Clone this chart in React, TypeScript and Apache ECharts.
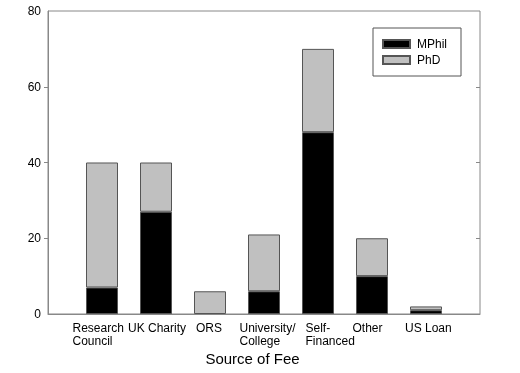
import React, { useEffect, useRef } from "react";
import * as echarts from "echarts";

const categories = ["Research\nCouncil", "UK Charity", "ORS", "University/\nCollege", "Self-\nFinanced", "Other", "US Loan"];
const mphil = [7, 27, 0, 6, 48, 10, 1];
const phd = [33, 13, 6, 15, 22, 10, 1];
const yTicks = [20, 40, 60];

// label block widths (left-aligned lines, block centred on the bar)
const labelBlockWidth = [59, 56, 28, 49, 25, 39, 42];

export default function App() {
  const ref = useRef<HTMLDivElement>(null);
  useEffect(() => {
    if (!ref.current) return;
    const chart = echarts.init(ref.current, null, { renderer: "svg" });
    const font = "'Liberation Sans', Arial, sans-serif";
    const rich: Record<string, any> = {};
    labelBlockWidth.forEach((w, i) => {
      rich["c" + i] = { width: w, align: "left", fontSize: 12, lineHeight: 13, color: "#000", fontFamily: font };
    });
    const axisCats = ["", ...categories, ""];
    chart.setOption({
      animation: false,
      textStyle: { fontFamily: font },
      grid: { left: 48, right: 40, top: 11, bottom: 59, show: true, borderColor: "#888", borderWidth: 1, backgroundColor: "transparent" },
      legend: {
        orient: "vertical",
        left: 373,
        top: 28,
        data: ["MPhil", "PhD"],
        icon: "rect",
        itemWidth: 27,
        itemHeight: 8,
        itemGap: 4,
        borderColor: "#555",
        borderWidth: 1,
        padding: [10, 14, 10, 9],
        textStyle: { fontSize: 12, color: "#000", lineHeight: 12, fontFamily: font, padding: [0, 0, 0, 2] },
      },
      xAxis: {
        type: "category",
        data: axisCats,
        boundaryGap: false,
        axisLine: { show: true, lineStyle: { color: "#888" } },
        axisTick: { show: false },
        splitLine: { show: false },
        axisLabel: {
          interval: 0,
          margin: 7,
          formatter: (v: string) => {
            const i = categories.indexOf(v);
            if (i < 0) return "";
            return v.split("\n").map((l) => `{c${i}|${l}}`).join("\n");
          },
          rich,
        },
        name: "Source of Fee",
        nameLocation: "middle",
        nameGap: 33,
        nameTextStyle: { fontSize: 15, color: "#000", fontFamily: font, padding: [0, 23, 0, 0] },
      },
      yAxis: [
        {
          type: "value",
          min: 0,
          max: 80,
          interval: 20,
          axisLine: { show: true, lineStyle: { color: "#888" } },
          axisTick: { show: true, inside: false, length: 4, customValues: yTicks, lineStyle: { color: "#888" } },
          splitLine: { show: false },
          axisLabel: { fontSize: 12, color: "#000", margin: 7, fontFamily: font },
        },
        {
          type: "value",
          position: "right",
          min: 0,
          max: 80,
          interval: 20,
          axisLine: { show: false },
          axisTick: { show: true, inside: true, length: 4, customValues: yTicks, lineStyle: { color: "#888" } },
          splitLine: { show: false },
          axisLabel: { show: false },
        },
      ],
      series: [
        {
          name: "MPhil",
          type: "bar",
          stack: "total",
          barWidth: 32,
          data: ["-", ...mphil.map((v) => (v === 0 ? "-" : v)), "-"],
          itemStyle: { color: "#000", borderColor: "#555", borderWidth: 1 },
        },
        {
          name: "PhD",
          type: "bar",
          stack: "total",
          barWidth: 32,
          data: ["-", ...phd, "-"],
          itemStyle: { color: "#c0c0c0", borderColor: "#555", borderWidth: 1 },
        },
      ],
    });
    return () => chart.dispose();
  }, []);
  return <div ref={ref} style={{ position: "fixed", left: 0, top: 0, width: 520, height: 373 }} />;
}
